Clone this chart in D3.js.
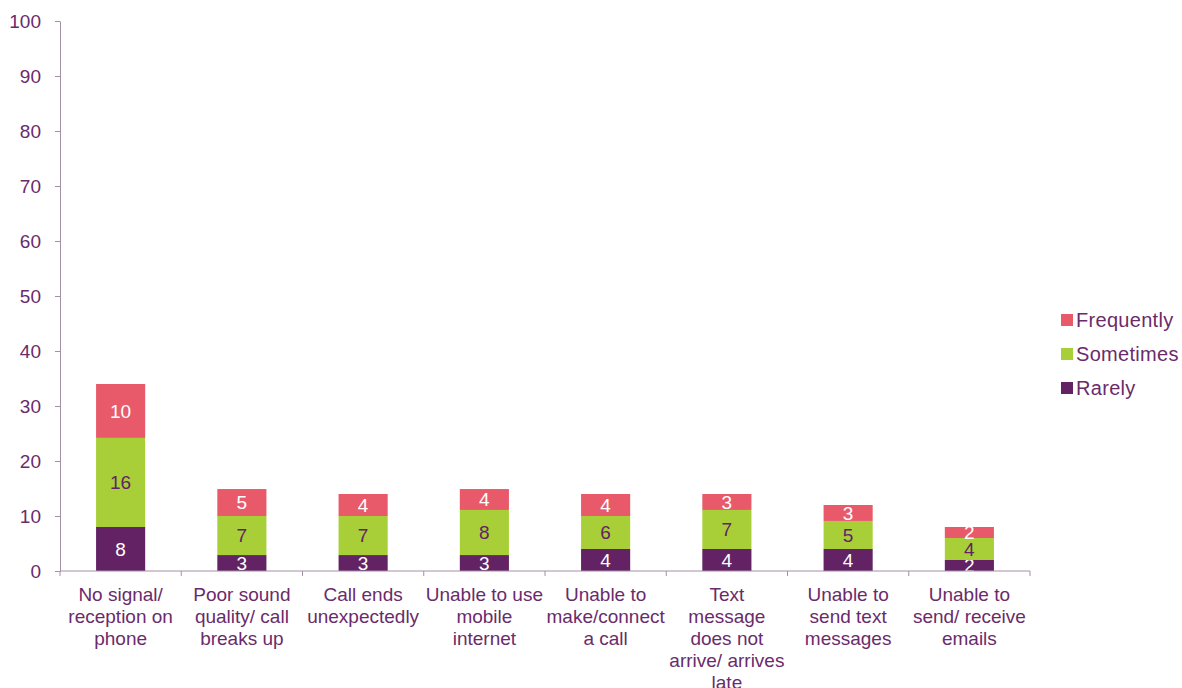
<!DOCTYPE html>
<html>
<head>
<meta charset="utf-8">
<script src="https://cdn.jsdelivr.net/npm/d3@7"></script>
<style>
  body { margin: 0; background: #fff; }
  text { font-family: "Liberation Sans", Arial, sans-serif; }
</style>
</head>
<body>
<svg id="drawing_region"></svg>
<script>
const categories = [
    ['No signal/', 'reception on', 'phone'],
    ['Poor sound', 'quality/ call', 'breaks up'],
    ['Call ends', 'unexpectedly'],
    ['Unable to use', 'mobile', 'internet'],
    ['Unable to', 'make/connect', 'a call'],
    ['Text', 'message', 'does not', 'arrive/ arrives', 'late'],
    ['Unable to', 'send text', 'messages'],
    ['Unable to', 'send/ receive', 'emails']
];
const series_names = ['Rarely', 'Sometimes', 'Frequently'];
const rarely     = [8, 2.9, 2.9, 2.9, 4, 4, 4, 2];
const sometimes  = [16.2, 7.1, 7.1, 8.2, 6, 7.1, 5.1, 4];
const frequently = [9.8, 4.9, 4, 3.8, 4, 2.9, 2.9, 2];
const yticks = [0, 10, 20, 30, 40, 50, 60, 70, 80, 90, 100];

const colors = { Rarely: '#632264', Sometimes: '#a9cf38', Frequently: '#e85a6a' };
const label_colors = { Rarely: '#ffffff', Sometimes: '#632264', Frequently: '#ffffff' };
const text_color = '#6a2b6b';
const axis_color = '#a48fa6';

const width = 1182, height = 688;
const margin = { top: 21, left: 60, right: 152, bottom: 117 };
const inner_width = 1030 - margin.left;
const inner_height = 571 - margin.top;

const data = categories.map((c, i) => ({
    key: i, label: c,
    Rarely: rarely[i], Sometimes: sometimes[i], Frequently: frequently[i]
}));

const svg = d3.select('#drawing_region')
    .attr('width', width)
    .attr('height', height);

const chart = svg.append('g')
    .attr('transform', `translate(${margin.left}, ${margin.top})`);

const xscale = d3.scaleBand()
    .domain(data.map(d => d.key))
    .range([0, inner_width])
    .paddingInner(0.595)
    .paddingOuter(0.2975);

const yscale = d3.scaleLinear()
    .domain([0, 100])
    .range([inner_height, 0]);

// y axis
const yaxis_group = chart.append('g')
    .call(d3.axisLeft(yscale).tickValues(yticks).tickSize(5).tickSizeOuter(0).tickPadding(14));
yaxis_group.select('.domain').attr('stroke', axis_color);
yaxis_group.selectAll('.tick line').attr('stroke', axis_color);
yaxis_group.selectAll('.tick text')
    .attr('fill', text_color)
    .style('font-size', '19px');

// stacked bars
const stack = d3.stack().keys(series_names)(data);

const layer = chart.selectAll('.layer').data(stack)
    .join('g')
    .attr('class', 'layer')
    .attr('fill', s => colors[s.key]);

layer.selectAll('rect').data(s => s)
    .join('rect')
    .attr('x', d => xscale(d.data.key))
    .attr('y', d => yscale(d[1]))
    .attr('width', xscale.bandwidth())
    .attr('height', d => yscale(d[0]) - yscale(d[1]));

layer.selectAll('text').data(s => s.map(d => ({ d: d, key: s.key })))
    .join('text')
    .attr('x', o => xscale(o.d.data.key) + xscale.bandwidth() / 2)
    .attr('y', o => (yscale(o.d[0]) + yscale(o.d[1])) / 2)
    .attr('dy', '0.36em')
    .attr('text-anchor', 'middle')
    .attr('fill', o => label_colors[o.key])
    .style('font-size', '19px')
    .text(o => Math.round(o.d[1] - o.d[0]));

// x axis
const step = inner_width / categories.length;
const xaxis_group = chart.append('g')
    .attr('transform', `translate(0, ${inner_height})`);
xaxis_group.append('line')
    .attr('x1', 0).attr('x2', inner_width)
    .attr('stroke', axis_color);
xaxis_group.selectAll('.sep').data(d3.range(categories.length + 1))
    .join('line')
    .attr('class', 'sep')
    .attr('x1', i => i * step).attr('x2', i => i * step)
    .attr('y1', 0).attr('y2', 5)
    .attr('stroke', axis_color);

xaxis_group.selectAll('.cat').data(data)
    .join('text')
    .attr('class', 'cat')
    .attr('text-anchor', 'middle')
    .attr('fill', text_color)
    .style('font-size', '19px')
    .attr('transform', d => `translate(${xscale(d.key) + xscale.bandwidth() / 2}, 30)`)
    .selectAll('tspan').data(d => d.label)
    .join('tspan')
    .attr('x', 0)
    .attr('y', (t, i) => i * 22)
    .text(t => t);

// legend
const legend = svg.append('g')
    .attr('transform', 'translate(1061, 320)');
const items = legend.selectAll('g').data(series_names.slice().reverse())
    .join('g')
    .attr('transform', (d, i) => `translate(0, ${i * 34})`);
items.append('rect')
    .attr('x', 0).attr('y', -6)
    .attr('width', 12).attr('height', 12)
    .attr('fill', d => colors[d]);
items.append('text')
    .attr('x', 15)
    .attr('dy', '0.36em')
    .attr('fill', text_color)
    .style('font-size', '20px')
    .style('letter-spacing', '0.3px')
    .text(d => d);
</script>
</body>
</html>
